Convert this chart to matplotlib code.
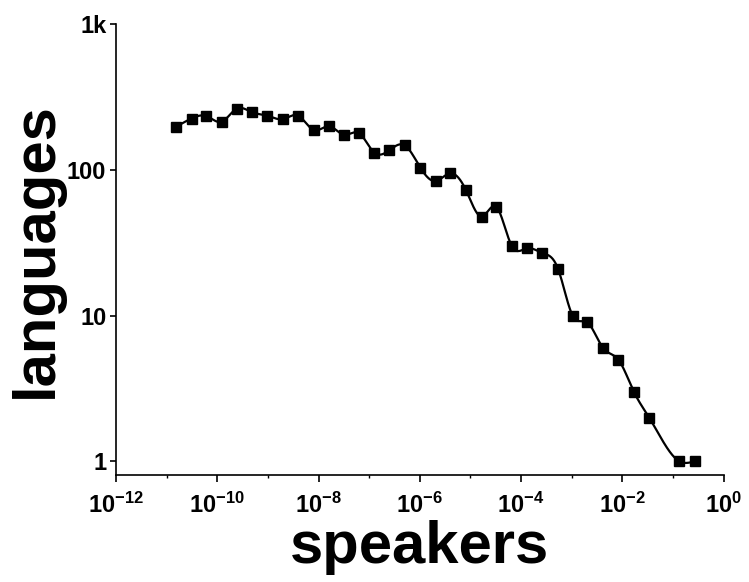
import numpy as np
import matplotlib
matplotlib.use("Agg")
import matplotlib.pyplot as plt
from matplotlib.ticker import FixedLocator, NullFormatter

# ------- dados (log10 dos falantes, número de línguas) -------
log_falantes = [-10.82, -10.51, -10.22, -9.91, -9.62, -9.32, -9.01, -8.71, -8.40,
                -8.09, -7.79, -7.50, -7.20, -6.90, -6.60, -6.30, -5.99, -5.69,
                -5.40, -5.09, -4.78, -4.49, -4.18, -3.89, -3.58, -3.27, -2.98,
                -2.69, -2.38, -2.08, -1.77, -1.47, -0.87, -0.57]
linguas = [198, 226, 235, 215, 264, 250, 236, 224, 236,
           188, 200, 175, 179, 132, 137, 148, 104, 84,
           95, 73, 48, 56, 30, 29, 27, 21, 10,
           9, 6, 5, 3, 2, 1, 1]

yticks = [1, 10, 100, 1000]
yticklabels = ["1", "10", "100", "1k"]
xticks_maiores = [1e-12, 1e-10, 1e-8, 1e-6, 1e-4, 1e-2, 1e0]
xticks_menores = [1e-11, 1e-9, 1e-7, 1e-5, 1e-3, 1e-1]


def spline_natural(x, y, n=1500):
    # spline cúbica natural (só para desenhar a linha suave)
    x = np.asarray(x, float)
    y = np.asarray(y, float)
    k = len(x)
    h = np.diff(x)
    A = np.zeros((k, k))
    b = np.zeros(k)
    A[0, 0] = 1
    A[-1, -1] = 1
    for i in range(1, k - 1):
        A[i, i - 1] = h[i - 1]
        A[i, i] = 2 * (h[i - 1] + h[i])
        A[i, i + 1] = h[i]
        b[i] = 3 * ((y[i + 1] - y[i]) / h[i] - (y[i] - y[i - 1]) / h[i - 1])
    c = np.linalg.solve(A, b)
    xs = np.linspace(x[0], x[-1], n)
    idx = np.clip(np.searchsorted(x, xs) - 1, 0, k - 2)
    dx = xs - x[idx]
    hi = h[idx]
    bb = (y[idx + 1] - y[idx]) / hi - hi * (2 * c[idx] + c[idx + 1]) / 3
    dd = (c[idx + 1] - c[idx]) / (3 * hi)
    ys = y[idx] + bb * dx + c[idx] * dx ** 2 + dd * dx ** 3
    return xs, ys


plt.rcParams['font.family'] = ['Liberation Sans', 'DejaVu Sans']
plt.rcParams['font.weight'] = 'bold'
plt.rcParams['mathtext.fontset'] = 'custom'
plt.rcParams['mathtext.rm'] = 'Liberation Sans:bold'
plt.rcParams['mathtext.bf'] = 'Liberation Sans:bold'
plt.rcParams['mathtext.default'] = 'rm'

fig = plt.figure(figsize=(7.49, 5.82), dpi=100)
ax = fig.add_axes([0.155, 0.184, 0.811, 0.774])

lx, ly = spline_natural(log_falantes, np.log10(linguas))
ax.plot(10 ** lx, 10 ** ly, color='black', lw=1.6, zorder=2)
ax.plot(10 ** np.array(log_falantes), linguas, linestyle='none', marker='s',
        markersize=7.2, color='black', zorder=3)

ax.set_xscale('log')
ax.set_yscale('log')
ax.set_xlim(1e-12, 1)
ax.set_ylim(0.807, 1000)

ax.xaxis.set_major_locator(FixedLocator(xticks_maiores))
ax.xaxis.set_minor_locator(FixedLocator(xticks_menores))
ax.xaxis.set_minor_formatter(NullFormatter())
ax.set_xticklabels(["$10^{%d}$" % int(round(np.log10(v))) for v in xticks_maiores])
ax.yaxis.set_major_locator(FixedLocator(yticks))
ax.yaxis.set_minor_locator(FixedLocator([]))
ax.set_yticklabels(yticklabels)

for lado in ['top', 'right']:
    ax.spines[lado].set_visible(False)
for lado in ['left', 'bottom']:
    ax.spines[lado].set_linewidth(1.2)

ax.tick_params(axis='x', which='major', direction='out', length=5, width=1.2,
               labelsize=17, pad=8)
ax.tick_params(axis='x', which='minor', direction='out', length=2.5, width=1.0)
ax.tick_params(axis='y', which='major', direction='out', length=4, width=1.2,
               labelsize=17, pad=3)

ax.set_xlabel('speakers', fontsize=43, fontweight='bold', labelpad=1)
ax.set_ylabel('languages', fontsize=43, fontweight='bold', labelpad=2)

fig.savefig('out.png', dpi=100)
